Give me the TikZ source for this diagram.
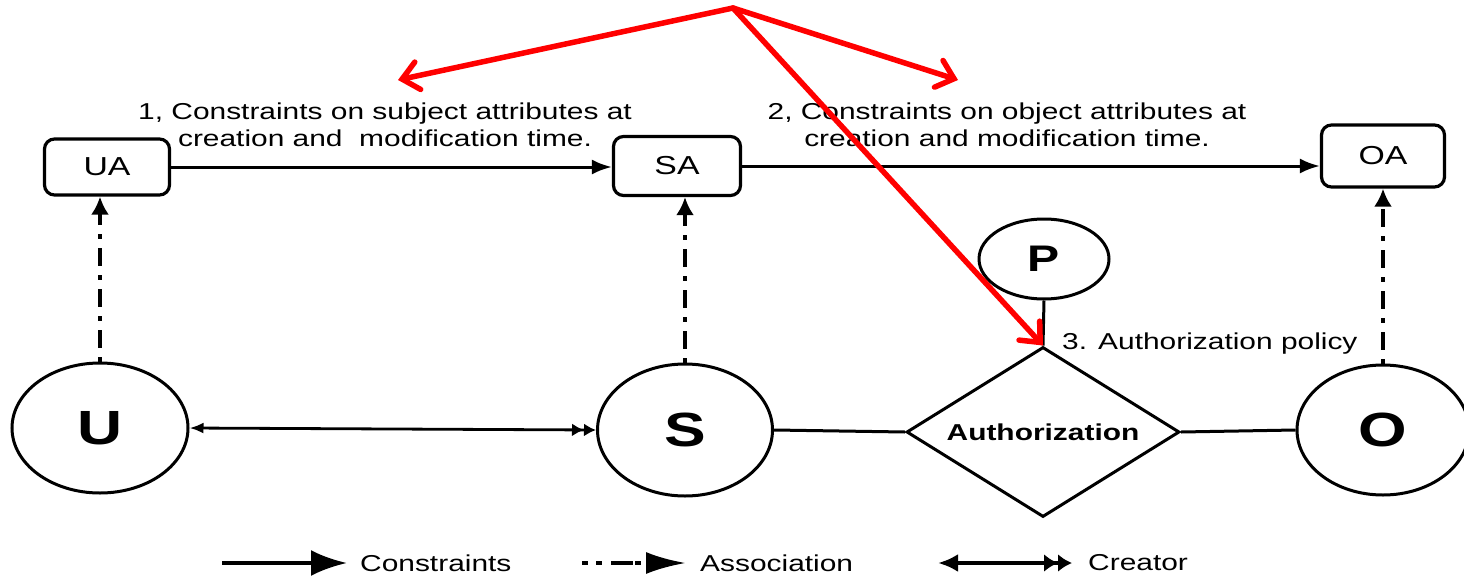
\documentclass[tikz,border=0pt]{standalone}
\usepackage{fontspec}
\setmainfont{Liberation Sans}
\newfontfamily\wf[FakeStretch=1.3]{Liberation Sans}
\usetikzlibrary{arrows.meta,shapes.geometric}
\begin{document}
\begin{tikzpicture}[x=1pt,y=-1pt,
  box/.style={draw,line width=3.2pt,rounded corners=10pt,inner sep=0pt,font=\wf\fontsize{26}{30}\selectfont},
  ent/.style={draw,ellipse,line width=3pt,inner sep=0pt,font=\wf\bfseries\fontsize{48}{52}\selectfont},
  con/.style={line width=3pt,-{Latex[length=20pt,width=15pt]}},
  asc/.style={line width=3.6pt,dash pattern=on 5pt off 9pt on 18pt off 9pt,-{Latex[length=18pt,width=18pt]}},
  plain/.style={line width=3pt},
  lbl/.style={font=\wf\fontsize{23}{27}\selectfont,align=center,inner sep=0pt},
  redarrow/.style={draw=red,line width=5.5pt,line cap=round,-{Straight Barb[length=16pt,width=28pt,line cap=round]}},
  legline/.style={line width=4pt}
]
\useasboundingbox[fill=white] (0,0) rectangle (1464,578);

% boxes
\node[box,minimum width=125pt,minimum height=56pt] (UA) at (107,167) {UA};
\node[box,minimum width=127pt,minimum height=59pt] (SA) at (677,166) {SA};
\node[box,minimum width=123pt,minimum height=62pt] (OA) at (1383,156) {OA};

% entities
\node[ent,minimum width=176pt,minimum height=130pt] (U) at (100,428) {U};
\node[ent,minimum width=175pt,minimum height=132pt] (S) at (685,430) {S};
\node[ent,minimum width=172pt,minimum height=130pt] (O) at (1383,430) {O};
\node[ent,minimum width=130pt,minimum height=80pt,font=\wf\bfseries\fontsize{37}{40}\selectfont] (P) at (1044,259) {P};
\node[draw,diamond,aspect=1.6,line width=3pt,inner sep=0pt,minimum width=273pt,minimum height=170pt,
      font=\wf\bfseries\fontsize{23}{26}\selectfont] (AZ) at (1043,432) {Authorization};

% labels
\node[lbl] (L1) at (385,125) {1, Constraints on subject attributes at\\creation and\ \ modification time.};
\node[lbl] (L2) at (1007,125) {2, Constraints on object attributes at\\creation and modification time.};
\node[lbl,anchor=west] (L3) at (1062,344) {3. Authorization policy};

% constraints
\draw[con] (UA.east) -- (UA.east -| SA.west);
\draw[con] (SA.east) -- (SA.east -| OA.west);

% associations
\draw[asc] (U.north) -- (U.north |- UA.south);
\draw[asc] (S.north) -- (S.north |- SA.south);
\draw[asc] (O.north) -- (O.north |- OA.south);

% creator
\draw[line width=2.8pt,{Latex[length=14pt,width=11pt]}-{Latex[length=12pt,width=13pt]Latex[length=12pt,width=13pt]}] (U.east) -- (S.west);

% plain links
\draw[plain] (S.east) -- (AZ.west);
\draw[plain] (AZ.east) -- (O.west);
\draw[plain] (P.south) -- (AZ.north);

% red arrows
\coordinate (R0) at (733,8);
\coordinate (R1) at (398,80);
\coordinate (R2) at (958,80);
\draw[redarrow] (R0) -- (R1);
\draw[redarrow] (R0) -- (R2);
\draw[redarrow] (R0) -- (AZ.north);

% legend
\coordinate (Ca) at (222,563);
\coordinate (Cb) at (347,563);
\draw[legline,-{Latex[length=36pt,width=26pt]}] (Ca) -- (Cb);
\node[lbl,anchor=west] (LC) at (360,563) {Constraints};
\coordinate (Aa) at (582,563);
\coordinate (Ab) at (686,563);
\draw[legline,dash pattern=on 6pt off 8pt on 6pt off 9pt on 22pt off 2pt,-{Latex[length=40pt,width=22pt]}] (Aa) -- (Ab);
\node[lbl,anchor=west] (LA) at (700,563) {Association};
\coordinate (Ka) at (938,563);
\coordinate (Kb) at (1072,563);
\draw[legline,{Latex[length=20pt,width=18pt]}-{Latex[length=14pt,width=18pt]Latex[length=14pt,width=18pt]}] (Ka) -- (Kb);
\node[lbl,anchor=west] (LK) at (1088,563) {Creator};
\end{tikzpicture}
\end{document}
